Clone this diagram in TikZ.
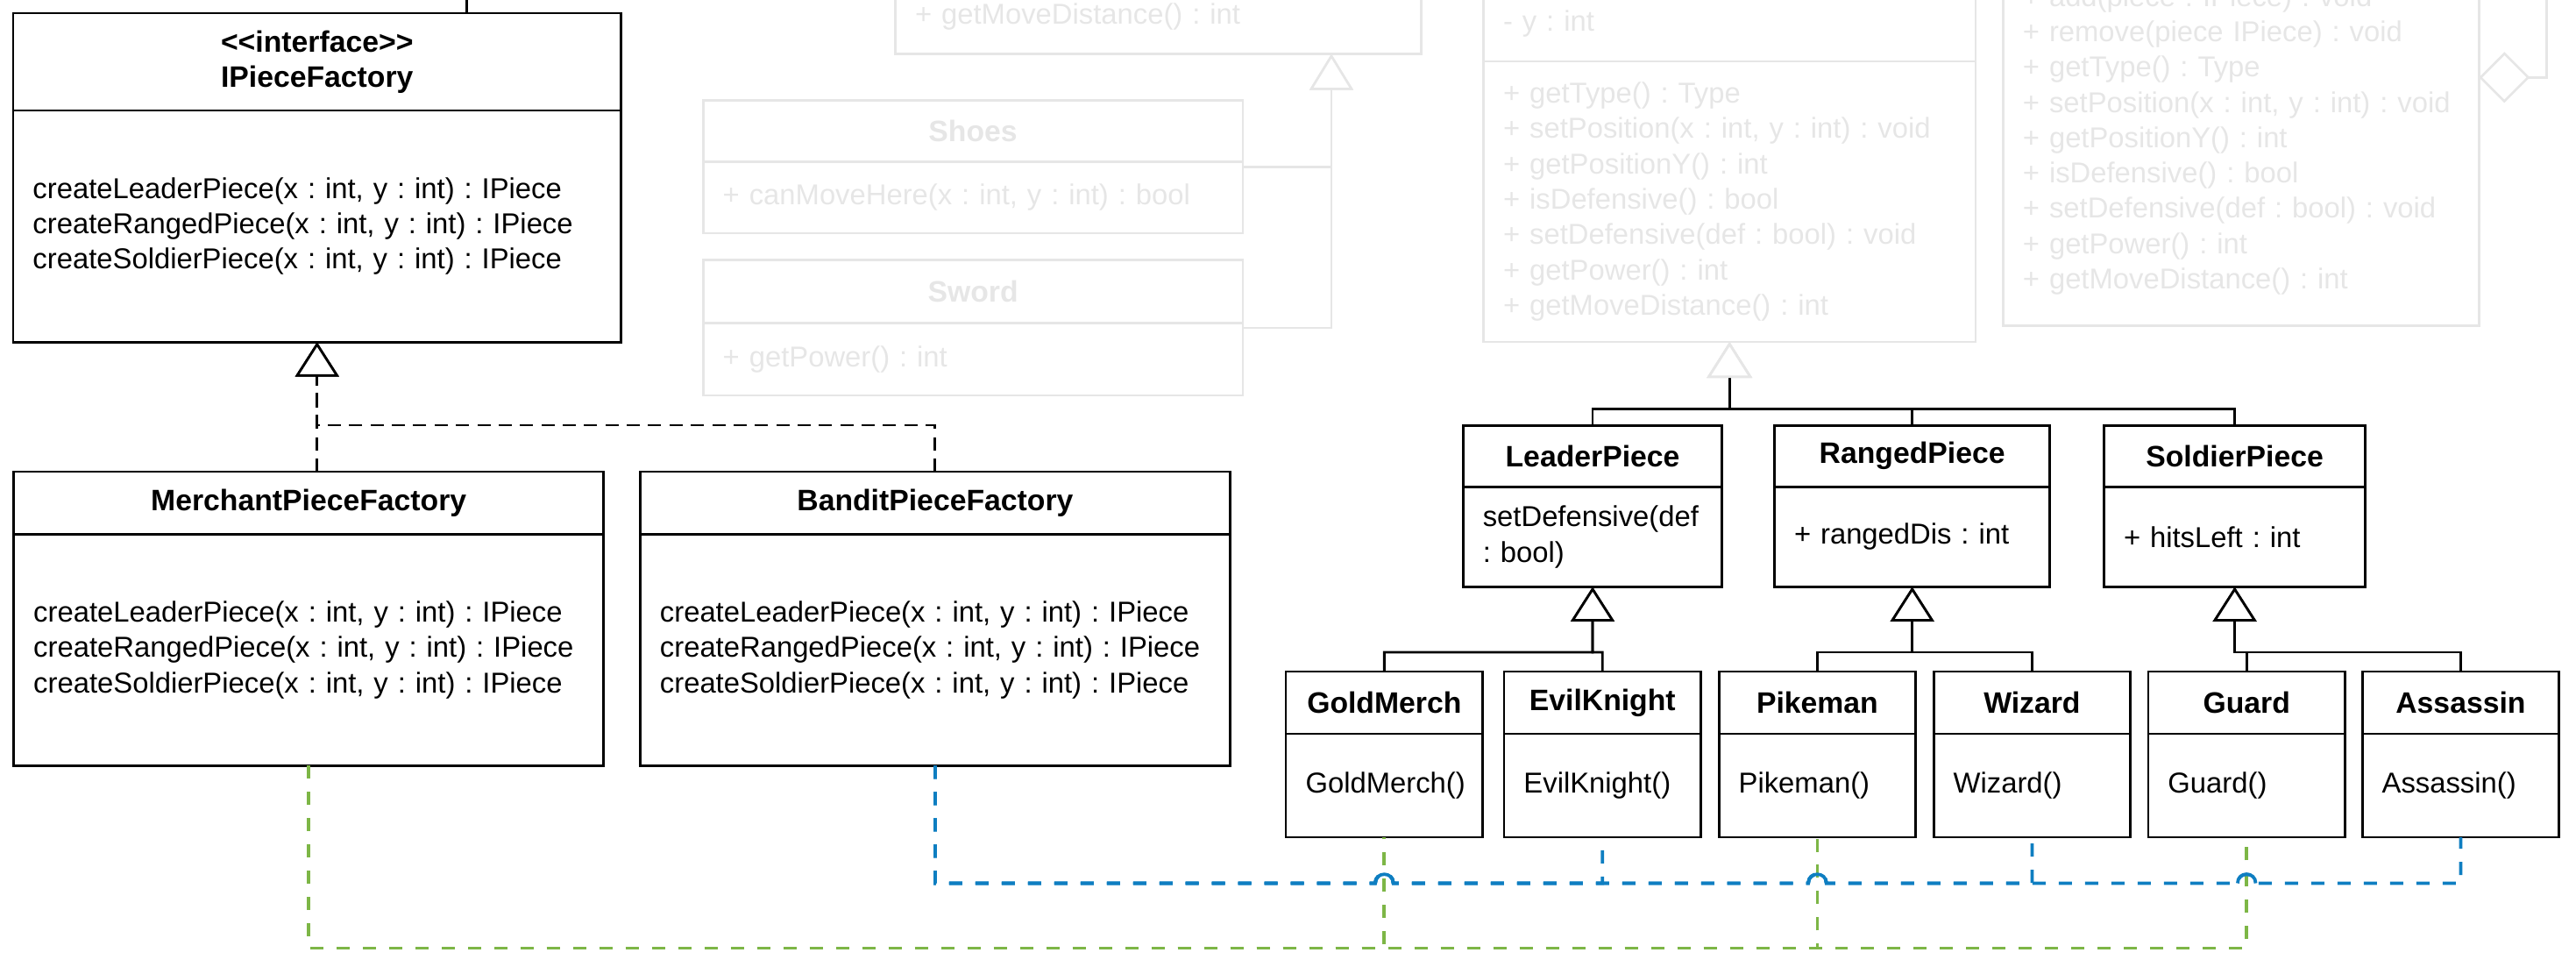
\documentclass[tikz,border=0pt]{standalone}
\usepackage{fontspec}
\setmainfont{Liberation Sans}
\usetikzlibrary{positioning,arrows.meta,calc}
\definecolor{faded}{HTML}{E6E6E6}
\definecolor{leafgreen}{HTML}{7DB646}
\definecolor{seablue}{HTML}{0E7EC1}
\frenchspacing
\hyphenpenalty=10000
\hfuzz=20pt

\begin{document}
\begin{tikzpicture}[x=1pt, y=-1pt,
  every node/.style={font=\fontsize{17.5}{21.5}\selectfont},
  box/.style={draw, line width=1.5pt, anchor=north west, outer sep=0pt, inner sep=0pt},
  hd/.style={box, font=\fontsize{18}{21.5}\selectfont\bfseries, align=center},
  bd/.style={box, align=left, inner xsep=12pt},
  fade/.style={draw=faded, text=faded, line width=1.4pt},
  inh/.style={line width=1.5pt, -{Triangle[length=21pt, width=26.5pt, fill=white]}},
  pinh/.style={line width=1.5pt, -{Triangle[length=22pt, width=27.5pt, color=faded, fill=white]}},
  fdinh/.style={fade, -{Triangle[length=22pt, width=26.6pt, color=faded, fill=white]}},
  real/.style={line width=1.5pt, dash pattern=on 8pt off 5pt, -{Triangle[length=21pt, width=26.5pt, fill=white, line width=1.5pt]}},
  dep/.style={line width=2pt, dash pattern=on 8pt off 8pt},
  hop/.style={line width=2pt, seablue}
]
\useasboundingbox (0,0) rectangle (1568,592.7);
\clip (0,0) rectangle (1568,592.7);

\node[bd, fade, text width=296pt, minimum height=45.6pt, anchor=south west] (equipB) at (545,32.8) {+ getMoveDistance() : int};
\node[hd, fade, minimum width=328.5pt, minimum height=37.5pt] (shoesH) at (428,61) {Shoes};
\node[bd, fade, text width=304.5pt, minimum height=43.5pt, below=0pt of shoesH] (shoesB) {+ canMoveHere(x : int, y : int) : bool};
\node[hd, fade, minimum width=328.5pt, minimum height=38.2pt] (swordH) at (428,158.3) {Sword};
\node[bd, fade, text width=304.5pt, minimum height=44.1pt, below=0pt of swordH] (swordB) {+ getPower() : int};
\coordinate (equipTip) at (810.4,32.8);
\draw[fdinh] ($(shoesH.north east)!.5!(shoesB.south east)$) -| (equipTip);
\draw[fdinh] ($(swordH.north east)!.5!(swordB.south east)$) -| (equipTip);

\node[bd, fade, text width=275.5pt, minimum height=45.8pt] (pieceA) at (903,-8.4) {- y : int};
\node[bd, fade, text width=275.5pt, minimum height=170.6pt, below=0pt of pieceA] (pieceB) {+ getType() : Type\\+ setPosition(x : int, y : int) : void\\+ getPositionY() : int\\+ isDefensive() : bool\\+ setDefensive(def : bool) : void\\+ getPower() : int\\+ getMoveDistance() : int};

\node[bd, fade, text width=265.6pt, minimum height=226pt] (groupB) at (1219.3,-27.7) {+ add(piece : IPiece) : void\\+ remove(piece IPiece) : void\\+ getType() : Type\\+ setPosition(x : int, y : int) : void\\+ getPositionY() : int\\+ isDefensive() : bool\\+ setDefensive(def : bool) : void\\+ getPower() : int\\+ getMoveDistance() : int};
\coordinate (diamondY) at (0,47.1);
\coordinate (groupUp) at (1550.2,-10);
\draw[fade, {Diamond[length=31pt, width=31pt, color=faded, fill=white]}-] (groupB.east |- diamondY) -| (groupUp);

\node[hd, minimum width=370pt, minimum height=59.2pt] (ipfH) at (8,8) {<\kern0pt<interface>\kern0pt>\\IPieceFactory};
\node[bd, text width=346pt, minimum height=141pt, below=0pt of ipfH] (ipfB) {createLeaderPiece(x : int, y : int) : IPiece\\createRangedPiece(x : int, y : int) : IPiece\\createSoldierPiece(x : int, y : int) : IPiece};
\coordinate (ipfUp) at (284.1,-10);
\draw[line width=1.5pt] (ipfUp |- ipfH.north) -- (ipfUp);

\node[hd, minimum width=359pt, minimum height=38pt] (merchH) at (8.4,287) {MerchantPieceFactory};
\node[bd, text width=335pt, minimum height=141pt, below=0pt of merchH] (merchB) {createLeaderPiece(x : int, y : int) : IPiece\\createRangedPiece(x : int, y : int) : IPiece\\createSoldierPiece(x : int, y : int) : IPiece};
\node[hd, minimum width=359pt, minimum height=38pt] (banditH) at (389.7,287) {BanditPieceFactory};
\node[bd, text width=335pt, minimum height=141pt, below=0pt of banditH] (banditB) {createLeaderPiece(x : int, y : int) : IPiece\\createRangedPiece(x : int, y : int) : IPiece\\createSoldierPiece(x : int, y : int) : IPiece};
\coordinate (facJoin) at (193,258.7);
\draw[real] (ipfB.south |- merchH.north) -- (ipfB.south);
\draw[real] (banditH.north) |- (facJoin) -- (ipfB.south);

\node[hd, minimum width=157.6pt, minimum height=37.2pt] (leaderH) at (890.6,259) {LeaderPiece};
\node[bd, text width=133.6pt, minimum height=61pt, below=0pt of leaderH] (leaderB) {setDefensive(def\\: bool)};
\node[hd, minimum width=167.7pt, minimum height=37.2pt] (rangedH) at (1080.1,259) {RangedPiece};
\node[bd, text width=143.7pt, minimum height=61pt, below=0pt of rangedH] (rangedB) {+ rangedDis : int};
\node[hd, minimum width=159.1pt, minimum height=37.2pt] (soldierH) at (1280.7,259) {SoldierPiece};
\node[bd, text width=135.1pt, minimum height=61pt, below=0pt of soldierH] (soldierB) {+ hitsLeft : int};
\coordinate (pieceJoin) at (1052.75,248.7);
\draw[pinh] (leaderH.north) |- (pieceJoin) -- (pieceB.south);
\draw[pinh] (rangedH.north) |- (pieceJoin) -- (pieceB.south);
\draw[pinh] (soldierH.north) |- (pieceJoin) -- (pieceB.south);

\node[hd, minimum width=119.8pt, minimum height=37.8pt] (goldH) at (782.7,408.7) {GoldMerch};
\node[bd, text width=95.8pt, minimum height=63pt, below=0pt of goldH] (goldB) {GoldMerch()};
\node[hd, minimum width=119.8pt, minimum height=37.8pt] (evilH) at (915.5,408.7) {EvilKnight};
\node[bd, text width=95.8pt, minimum height=63pt, below=0pt of evilH] (evilB) {EvilKnight()};
\node[hd, minimum width=119.8pt, minimum height=37.8pt] (pikeH) at (1046.3,408.7) {Pikeman};
\node[bd, text width=95.8pt, minimum height=63pt, below=0pt of pikeH] (pikeB) {Pikeman()};
\node[hd, minimum width=119.8pt, minimum height=37.8pt] (wizH) at (1177,408.7) {Wizard};
\node[bd, text width=95.8pt, minimum height=63pt, below=0pt of wizH] (wizB) {Wizard()};
\node[hd, minimum width=119.8pt, minimum height=37.8pt] (guardH) at (1307.6,408.7) {Guard};
\node[bd, text width=95.8pt, minimum height=63pt, below=0pt of guardH] (guardB) {Guard()};
\node[hd, minimum width=119.8pt, minimum height=37.8pt] (assH) at (1437.9,408.7) {Assassin};
\node[bd, text width=95.8pt, minimum height=63pt, below=0pt of assH] (assB) {Assassin()};

\coordinate (leaderJoin) at (969.4,396.9);
\coordinate (rangedJoin) at (1163.95,396.9);
\coordinate (soldierJoin) at (1360.25,396.9);
\draw[inh] (goldH.north) |- (leaderJoin) -- (leaderB.south);
\draw[inh] (evilH.north) |- (leaderJoin) -- (leaderB.south);
\draw[inh] (pikeH.north) |- (rangedJoin) -- (rangedB.south);
\draw[inh] (wizH.north) |- (rangedJoin) -- (rangedB.south);
\draw[inh] (guardH.north) |- (soldierJoin) -- (soldierB.south);
\draw[inh] (assH.north) |- (soldierJoin) -- (soldierB.south);

\coordinate (greenLane) at (0,577);
\coordinate (blueLane) at (0,537.5);
\coordinate (hopA) at ($(goldB.south |- blueLane)+(-5.5,0)$);
\coordinate (hopB) at ($(pikeB.south |- blueLane)+(-5.5,0)$);
\coordinate (hopC) at ($(guardB.south |- blueLane)+(-5.5,0)$);
\draw[dep, leafgreen] (merchB.south) |- (goldB.south |- greenLane) -- (goldB.south);
\draw[dep, leafgreen] (merchB.south) |- (pikeB.south |- greenLane) -- (pikeB.south);
\draw[dep, leafgreen] (merchB.south) |- (guardB.south |- greenLane) -- (guardB.south);
\draw[dep, seablue] (banditB.south) |- (hopA) .. controls +(0,-7.3) and +(0,-7.3) .. ++(11,0) -| (evilB.south);
\draw[dep, seablue] (banditB.south) |- (hopA) .. controls +(0,-7.3) and +(0,-7.3) .. ++(11,0) -- (hopB) .. controls +(0,-7.3) and +(0,-7.3) .. ++(11,0) -| (wizB.south);
\draw[dep, seablue] (banditB.south) |- (hopA) .. controls +(0,-7.3) and +(0,-7.3) .. ++(11,0) -- (hopB) .. controls +(0,-7.3) and +(0,-7.3) .. ++(11,0) -- (hopC) .. controls +(0,-7.3) and +(0,-7.3) .. ++(11,0) -| (assB.south);
\draw[hop] (hopA) .. controls +(0,-7.3) and +(0,-7.3) .. ++(11,0);
\draw[hop] (hopB) .. controls +(0,-7.3) and +(0,-7.3) .. ++(11,0);
\draw[hop] (hopC) .. controls +(0,-7.3) and +(0,-7.3) .. ++(11,0);
\end{tikzpicture}
\end{document}
